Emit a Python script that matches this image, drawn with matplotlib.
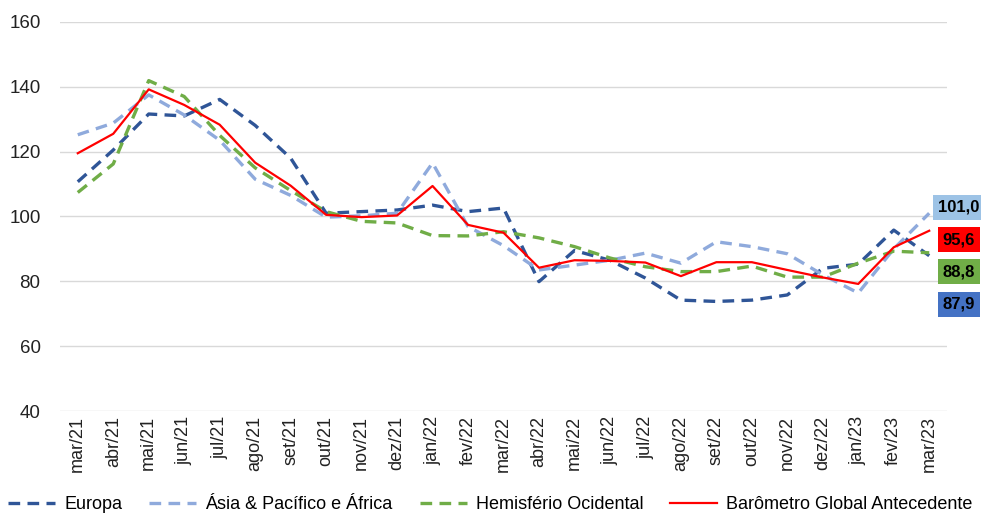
import matplotlib.pyplot as plt

plt.rcParams['font.family'] = ['Liberation Sans', 'DejaVu Sans']

# --- data ---
months = ["mar/21", "abr/21", "mai/21", "jun/21", "jul/21", "ago/21", "set/21",
          "out/21", "nov/21", "dez/21", "jan/22", "fev/22", "mar/22", "abr/22",
          "mai/22", "jun/22", "jul/22", "ago/22", "set/22", "out/22", "nov/22",
          "dez/22", "jan/23", "fev/23", "mar/23"]

europa = [110.7, 120.5, 131.6, 131.0, 136.1, 128.1, 118.0, 101.0, 101.5, 102.0,
          103.5, 101.5, 102.6, 79.9, 89.5, 86.5, 81.0, 74.2, 73.8, 74.2,
          75.8, 84.0, 85.3, 95.8, 87.9]
asia = [125.2, 128.8, 137.5, 131.3, 123.5, 111.5, 106.5, 99.8, 100.2, 101.0,
        116.5, 96.9, 91.0, 83.5, 85.0, 86.5, 88.7, 85.6, 92.2, 90.7,
        88.5, 82.0, 76.4, 90.0, 101.0]
hemisferio = [107.4, 116.2, 141.9, 137.0, 125.0, 115.0, 108.0, 101.5, 98.5, 98.0,
              94.1, 94.0, 95.3, 93.4, 90.7, 87.2, 84.5, 83.0, 83.0, 84.7,
              81.3, 81.3, 85.6, 89.3, 88.8]
barometro = [119.5, 125.5, 139.2, 134.4, 128.3, 116.6, 109.5, 100.5, 99.8, 100.3,
             109.4, 97.4, 95.0, 84.2, 86.5, 86.3, 85.8, 81.6, 85.9, 85.9,
             83.5, 81.2, 79.2, 90.5, 95.6]

last_labels = ["101,0", "95,6", "88,8", "87,9"]

c_eur = "#2F5597"
c_asia = "#8FAADC"
c_hem = "#70AD47"
c_bar = "#FF0000"

fig = plt.figure(figsize=(9.81, 5.22), dpi=100)
ax = fig.add_axes([0.0612, 0.2126, 0.9041, 0.7454])

x = range(len(months))
dash = (3.5, 2.2)
ax.plot(x, europa, color=c_eur, lw=2.4, dashes=dash, label="Europa")
ax.plot(x, asia, color=c_asia, lw=2.4, dashes=dash, label="Ásia & Pacífico e África")
ax.plot(x, hemisferio, color=c_hem, lw=2.4, dashes=dash, label="Hemisfério Ocidental")
ax.plot(x, barometro, color=c_bar, lw=1.6, label="Barômetro Global Antecedente")

ax.set_xlim(-0.5, len(months) - 0.5)
ax.set_ylim(40, 160)
ax.set_yticks(range(40, 161, 20))
ax.set_xticks(list(x))
ax.set_xticklabels(months, rotation=90, fontsize=13, color="#222222")
ax.tick_params(axis="y", labelsize=13.5, colors="#222222", pad=14)
ax.tick_params(length=0)
ax.grid(axis="y", color="#D9D9D9", lw=1)
ax.set_axisbelow(True)
for s in ax.spines.values():
    s.set_visible(False)

# end-value boxes on the right
box_y = [102.9, 92.8, 82.9, 73.0]
box_c = ["#9DC3E6", c_bar, c_hem, "#4472C4"]
for txt, yy, bc in zip(last_labels, box_y, box_c):
    ax.text(24.84, yy, txt, ha="center", va="center", fontsize=12,
            fontweight="bold", color="black", clip_on=False,
            bbox=dict(boxstyle="square,pad=0.3", fc=bc, ec="none"))

fig.legend(loc="lower center", bbox_to_anchor=(0.5, -0.014), ncol=4,
           frameon=False, fontsize=13, handlelength=2.6, columnspacing=1.5,
           handletextpad=0.5)

fig.savefig("out.png", dpi=100)
